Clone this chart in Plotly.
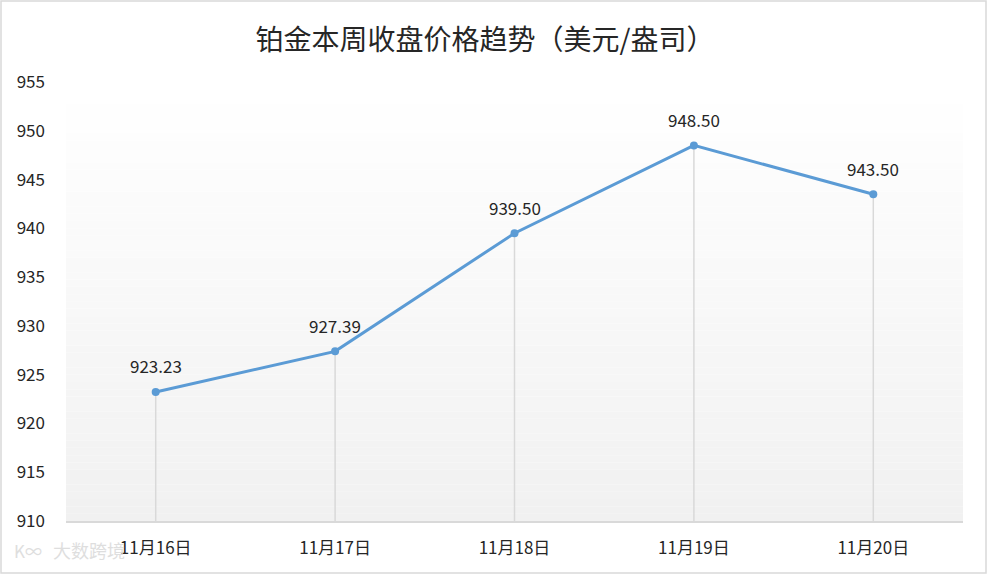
import plotly.graph_objects as go

categories = ["11月16日", "11月17日", "11月18日", "11月19日", "11月20日"]
prices = [923.23, 927.39, 939.50, 948.50, 943.50]
price_labels = ["923.23", "927.39", "939.50", "948.50", "943.50"]
y_ticks = [910, 915, 920, 925, 930, 935, 940, 945, 950, 955]

W, H = 987, 574
ML, MR, MT, MB = 66, 24, 82, 53
PW, PH = W - ML - MR, H - MT - MB
FONT = "Noto Sans CJK SC, Noto Sans, sans-serif"
TXT = "#262626"

fig = go.Figure()

# drop lines
for c, p in zip(categories, prices):
    fig.add_trace(go.Scatter(x=[c, c], y=[910, p], mode="lines",
                             line=dict(color="#d9d9d9", width=1.5),
                             hoverinfo="skip", showlegend=False))

fig.add_trace(go.Scatter(x=categories, y=prices, mode="lines+markers",
                         line=dict(color="#5b9bd5", width=3),
                         marker=dict(color="#5b9bd5", size=8),
                         showlegend=False))

for c, p, t in zip(categories, prices, price_labels):
    fig.add_annotation(x=c, y=p, text=t, showarrow=False, yshift=26,
                       font=dict(size=17, color=TXT, family=FONT))

# gradient background bands
n = 60
shapes = []
for i in range(n):
    f = i / (n - 1)
    v = int(round(241 + (255 - 241) * f))
    shapes.append(dict(type="rect", xref="paper", yref="paper",
                       x0=0, x1=1, y0=i / n, y1=(i + 1) / n,
                       fillcolor=f"rgb({v},{v},{v})", line=dict(width=0),
                       layer="below"))
# outer border
shapes.append(dict(type="rect", xref="paper", yref="paper",
                   x0=(-ML + 1) / PW, x1=(W - ML - 1) / PW,
                   y0=(-MB + 1) / PH, y1=(H - MB - 1) / PH,
                   line=dict(color="#d9d9d9", width=1.5), layer="above"))

wm_y = -(550 - (H - MB)) / PH
fig.add_annotation(xref="paper", yref="paper", x=(89 - ML) / PW, y=wm_y,
                   xanchor="center", yanchor="middle",
                   text="大数跨境", showarrow=False,
                   font=dict(size=18, color="#dedede", family=FONT))
fig.add_annotation(xref="paper", yref="paper", x=(28 - ML) / PW, y=wm_y,
                   xanchor="center", yanchor="middle",
                   text="K∞", showarrow=False,
                   font=dict(size=17, color="#dedede", family=FONT))

fig.update_layout(
    width=W, height=H,
    margin=dict(l=ML, r=MR, t=MT, b=MB),
    paper_bgcolor="white", plot_bgcolor="rgba(0,0,0,0)",
    shapes=shapes,
    title=dict(text="铂金本周收盘价格趋势（美元/盎司）", x=(485 - ML) / PW, xref="paper",
               xanchor="center", y=1 - 40 / H, yanchor="middle",
               font=dict(size=28, color=TXT, family=FONT)),
    xaxis=dict(type="category", showgrid=False, showline=True, linecolor="#d9d9d9",
               linewidth=1.5, ticks="", ticklabelstandoff=11,
               tickfont=dict(size=17, color=TXT, family=FONT),
               range=[-0.5, 4.5]),
    yaxis=dict(range=[910, 955], tickvals=y_ticks, showgrid=False, zeroline=False,
               showline=False, ticks="", ticklabelstandoff=20,
               tickfont=dict(size=17, color=TXT, family=FONT)),
)

fig.write_html("out.html", config={"displayModeBar": False},
               post_script="document.body.style.margin='0';document.body.style.overflow='hidden';")
